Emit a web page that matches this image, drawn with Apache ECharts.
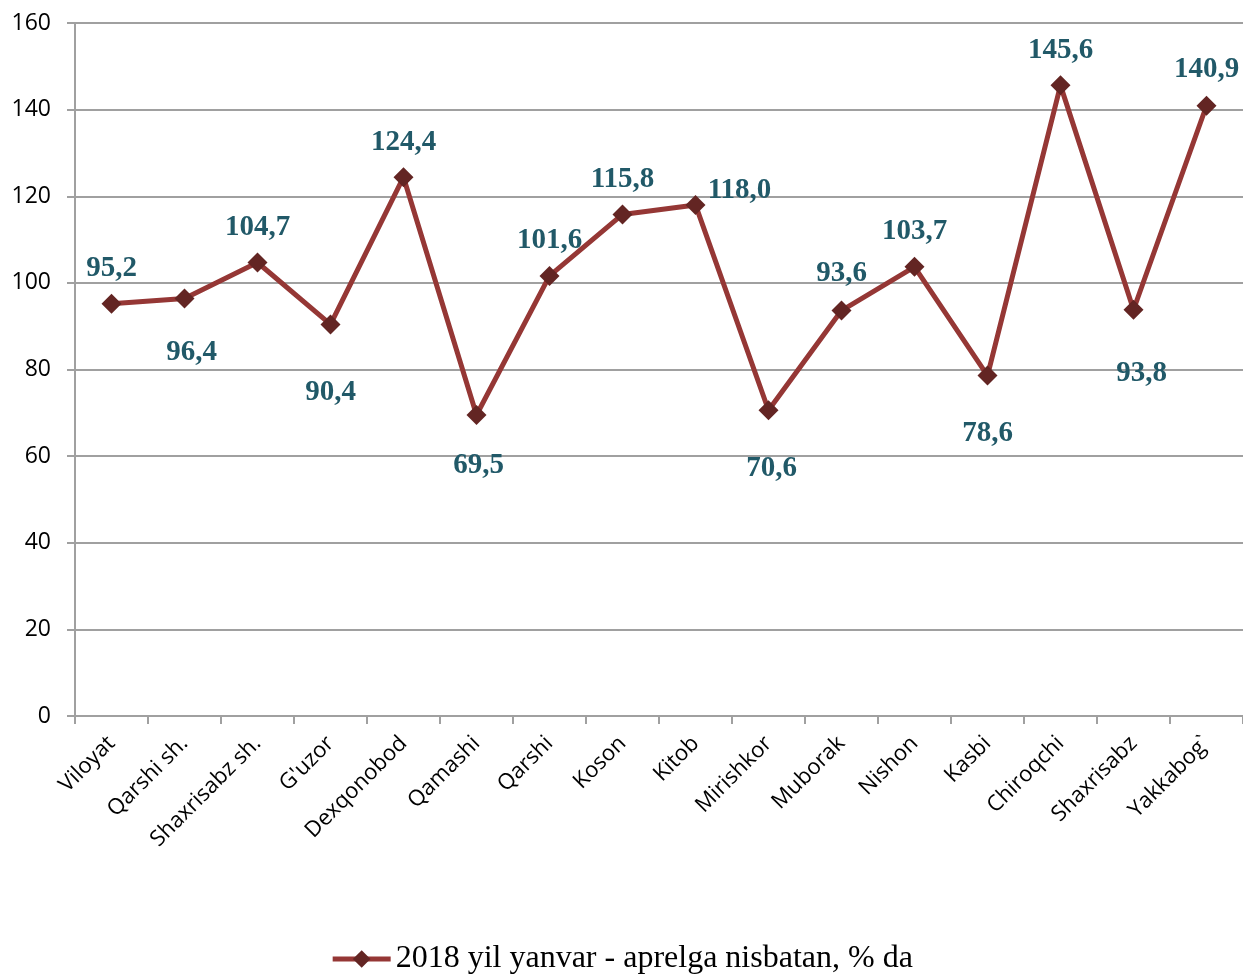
<!DOCTYPE html>
<html>
<head>
<meta charset="utf-8">
<script src="https://cdn.jsdelivr.net/npm/echarts@6/dist/echarts.min.js"></script>
<style>html,body{margin:0;padding:0;background:#fff;}#chart{width:1243px;height:976px;}</style>
</head>
<body>
<div id="chart"></div>
<script>
var categories = ["Viloyat","Qarshi sh.","Shaxrisabz sh.","G'uzor","Dexqonobod","Qamashi","Qarshi","Koson","Kitob","Mirishkor","Muborak","Nishon","Kasbi","Chiroqchi","Shaxrisabz","Yakkabog`"];
var values = [95.2,96.4,104.7,90.4,124.4,69.5,101.6,115.8,118.0,70.6,93.6,103.7,78.6,145.6,93.8,140.9];
var seriesName = "2018 yil yanvar - aprelga nisbatan, % da";
var yTicks = {min:0, max:160, interval:20};

// label placement (layout only)
var labelOffsets = [[0,-35],[7,54],[0,-35],[0,68],[0,-35],[2,51],[0,-35],[0,-35],[44,-14],[3,58],[0,-37],[0,-35],[0,58],[0,-35],[8,64],[0,-36]];

var chart = echarts.init(document.getElementById('chart'));
var data = values.map(function(v,i){
  return {value:v, label:{offset:labelOffsets[i]}};
});
chart.setOption({
  animation:false,
  backgroundColor:'#fff',
  grid:{left:75,right:-2,top:23,bottom:260,containLabel:false},
  legend:{
    bottom:-4, left:'center',
    itemWidth:58, itemHeight:22, itemGap:4,
    lineStyle:{width:5},
    textStyle:{fontFamily:'Liberation Serif',fontSize:32,color:'#000'},
    data:[seriesName]
  },
  xAxis:{
    type:'category', data:categories, boundaryGap:true,
    axisLine:{lineStyle:{color:'#a0a0a0',width:2}},
    axisTick:{show:true,length:8,lineStyle:{color:'#a0a0a0',width:2}},
    axisLabel:{rotate:45,margin:24,interval:0,fontFamily:'Open Sans',fontSize:22,color:'#000'}
  },
  yAxis:{
    type:'value', min:yTicks.min, max:yTicks.max, interval:yTicks.interval,
    axisLine:{show:true,lineStyle:{color:'#a0a0a0',width:2}},
    axisTick:{show:true,length:8,lineStyle:{color:'#a0a0a0',width:2}},
    splitLine:{show:true,lineStyle:{color:'#a0a0a0',width:2}},
    axisLabel:{margin:24,fontFamily:'Open Sans',fontSize:23,color:'#000'}
  },
  series:[{
    name:seriesName, type:'line', data:data,
    symbol:'diamond', symbolSize:20,
    lineStyle:{color:'#953735',width:5},
    itemStyle:{color:'#632523'},
    label:{show:true,position:'inside',fontFamily:'Liberation Serif',fontWeight:'bold',fontSize:29,color:'#215968',
      formatter:function(p){return p.value.toFixed(1).replace('.',',');}}
  }]
});
</script>
</body>
</html>
